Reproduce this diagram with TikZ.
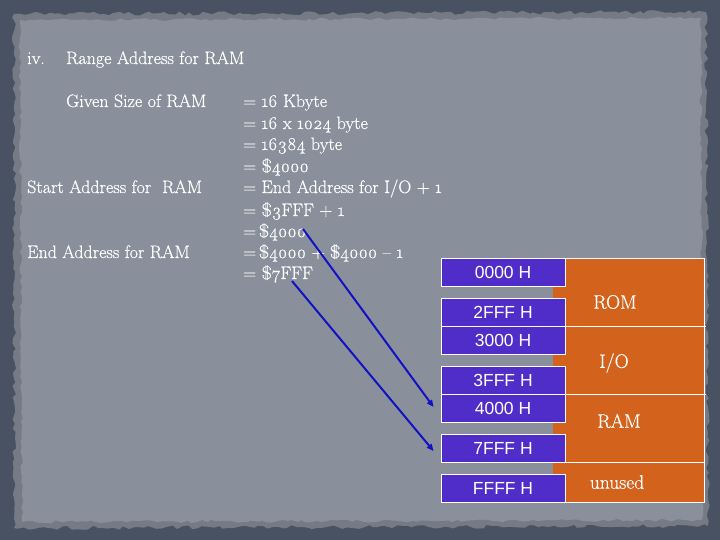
\documentclass[tikz,border=0pt]{standalone}
\usepackage{fontspec}
\setmainfont{Latin Modern Roman}[Numbers=OldStyle, FakeBold=0.5]
\newfontfamily\boxfont{Liberation Sans}
\usetikzlibrary{arrows.meta,decorations.pathmorphing}
\definecolor{outerbg}{RGB}{72,82,98}
\definecolor{paper}{RGB}{138,144,155}
\definecolor{addrpurple}{RGB}{80,45,200}
\definecolor{memorange}{RGB}{210,98,28}
\definecolor{arrowblue}{RGB}{18,18,195}
\newcommand{\eqsp}{=\hspace{0.3em}}
\newcommand{\eqtight}{=\hspace{0.15em}}
\tikzset{
  txt/.style={anchor=base west, inner sep=0pt, text=white, font=\fontsize{18}{21}\selectfont},
  addr/.style={draw=white, line width=0.9pt, fill=addrpurple, text=white,
    minimum width=124pt, minimum height=28pt, inner sep=0pt,
    font=\boxfont\fontsize{17.5}{19}\selectfont},
  memlabel/.style={text=white, inner sep=0pt, font=\fontsize{19.5}{21}\selectfont},
  ptr/.style={draw=arrowblue, line width=2pt, -{Triangle[length=7pt,width=6pt]}},
  sep/.style={draw=white, line width=0.9pt}
}
\begin{document}
\begin{tikzpicture}[x=1pt,y=-1pt]
\useasboundingbox (0,0) rectangle (720,540);
% background
\fill[outerbg] (0,0) rectangle (720,540);
\pgfmathsetseed{7}
\fill[paper!85!black, decorate, decoration={random steps, segment length=5pt, amplitude=2pt}]
  (14,14) -- (706,12) -- (708,526) -- (14,528) -- cycle;
\fill[paper, decorate, decoration={random steps, segment length=5pt, amplitude=1.5pt}]
  (20,20) -- (701,18) -- (702,520) -- (22,522) -- cycle;

% left-hand text
\node[txt] (iv) at (27,64) {iv.};
\node[txt] (title) at (66,64) {Range Address for RAM};
\node[txt] (given) at (66,107) {Given Size of RAM};
\node[txt] (start) at (27,193) {Start Address for\ \ RAM};
\node[txt] (endl) at (27,258) {End Address for RAM};

\node[txt] (e1) at (243,107) {\eqsp 16 Kbyte};
\node[txt] (e2) at (243,129) {\eqsp 16 x 1024 byte};
\node[txt] (e3) at (243,150) {\eqsp 16384 byte};
\node[txt] (e4) at (243,172) {\eqsp \$4000};
\node[txt] (e5) at (243,193) {\eqsp End Address for I/O + 1};
\node[txt] (e6) at (243,216) {\eqsp \$3FFF + 1};
\node[txt] (e7) at (243,237) {\eqtight \$4000};
\node[txt] (e8) at (243,258) {\eqtight \$4000 + \$4000 -- 1};
\node[txt] (e9) at (243,279) {\eqsp \$7FFF};

% memory map
\fill[memorange] (553,258) rectangle (704,502);
\draw[sep] (565,258) -- (704,258) -- (704,502) -- (565,502);
\draw[sep] (565,326) -- (706,326);
\draw[sep] (565,394) -- (706,394);
\draw[sep] (565,462) -- (704,462);

\node[addr] (b0000) at (503,272.5) {0000 H};
\node[addr] (b2fff) at (503,312) {2FFF H};
\node[addr] (b3000) at (503,340.5) {3000 H};
\node[addr] (b3fff) at (503,380.5) {3FFF H};
\node[addr] (b4000) at (503,408.5) {4000 H};
\node[addr] (b7fff) at (503,448) {7FFF H};
\node[addr] (bffff) at (503,488) {FFFF H};

\node[memlabel] (rom) at (615,302) {ROM};
\node[memlabel] (io) at (614,363) {I/O};
\node[memlabel] (ram) at (619,421) {RAM};
\node[memlabel] (unused) at (617,482) {unused};

% arrows
\coordinate (a1) at (303,229);
\coordinate (a2) at (292,281);
\draw[ptr] (a1) -- ([xshift=-7pt,yshift=1.5pt]b4000.west);
\draw[ptr] (a2) -- ([xshift=-7pt,yshift=-3pt]b7fff.west);
\end{tikzpicture}
\end{document}
